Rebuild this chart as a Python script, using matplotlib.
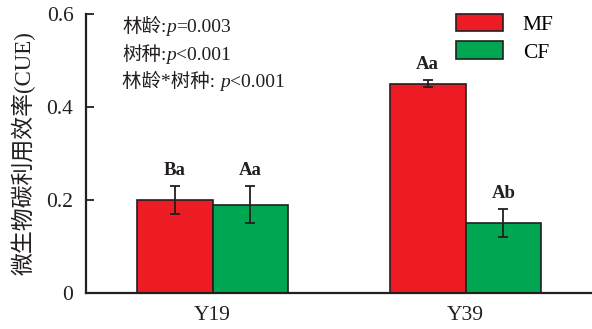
import matplotlib
matplotlib.use("Agg")
import matplotlib.pyplot as plt
import numpy as np

plt.rcParams['font.family'] = ['Liberation Serif', 'Noto Sans CJK SC']

# stand ages and forest types
ages = ['Y19', 'Y39']
mf_cue = [0.20, 0.45]
mf_err = [0.03, 0.008]
cf_cue = [0.19, 0.15]
cf_err = [0.04, 0.03]
mf_sig = ['Ba', 'Aa']
cf_sig = ['Aa', 'Ab']
# two-way ANOVA results: term, separator, p-value text
stats_terms = ['林龄', '树种', '林龄*树种']
stats_seps = [':', ':', ': ']
stats_p = ['=0.003', '<0.001', '<0.001']

red = '#ED1C24'
green = '#00A651'
dark = '#231F20'

fig = plt.figure(figsize=(5.92, 3.29), dpi=100)
ax = fig.add_axes([86 / 592, 36 / 329, (592 - 86) / 592, (293 - 14) / 329])

x = np.arange(len(ages))
w = 0.3
err_kw = dict(ecolor=dark, elinewidth=1.3, capsize=3.5, capthick=1.3)
b1 = ax.bar(x - w / 2, mf_cue, w, yerr=mf_err, color=red, edgecolor=dark,
            linewidth=1.2, label='MF', error_kw=err_kw)
b2 = ax.bar(x + w / 2, cf_cue, w, yerr=cf_err, color=green, edgecolor=dark,
            linewidth=1.2, label='CF', error_kw=err_kw)

# significance letters above the error bars
for xs, vals, errs, sig in [(x - w / 2, mf_cue, mf_err, mf_sig),
                            (x + w / 2, cf_cue, cf_err, cf_sig)]:
    for xi, v, e, s in zip(xs, vals, errs, sig):
        ax.annotate(s, (xi, v + e), xytext=(0, 5), textcoords='offset points',
                    ha='center', va='bottom', fontsize=13.5, fontweight='bold',
                    color=dark)

ax.set_xlim(-0.5, 1.5)
ax.set_ylim(0, 0.6)
ax.set_xticks(x)
ax.set_xticklabels(ages, fontsize=15.5)
ax.set_yticks([0, 0.2, 0.4, 0.6])
ax.set_yticklabels(['0', '0.2', '0.4', '0.6'], fontsize=15.5)
ax.tick_params(axis='y', direction='in', length=6, width=1.3, pad=9, colors=dark)
ax.tick_params(axis='x', length=0, pad=9, colors=dark)
for side in ['top', 'right']:
    ax.spines[side].set_visible(False)
for side in ['left', 'bottom']:
    ax.spines[side].set_linewidth(1.6)
    ax.spines[side].set_color(dark)

ax.set_ylabel('微生物碳利用效率(CUE)', fontsize=16.5, color=dark, labelpad=8)

ax.legend(handles=[b1, b2], loc='upper left',
          bbox_to_anchor=(456 / 592, 1 - 14 / 329), bbox_transform=fig.transFigure,
          frameon=False, fontsize=15.5, handlelength=2.2, handleheight=0.85,
          handletextpad=0.9, labelspacing=0.3, borderpad=0, borderaxespad=0)

# stats block: pieces placed one after another on a shared baseline
renderer = fig.canvas.get_renderer()
fs = 14
for i in range(len(stats_terms)):
    yb = 1 - (32 + i * 27.5) / 329
    xl = 122 / 592
    for piece, style in [(stats_terms[i] + stats_seps[i], 'normal'),
                         ('p', 'italic'), (stats_p[i], 'normal')]:
        t = fig.text(xl, yb, piece, fontsize=fs, fontstyle=style,
                     ha='left', va='baseline', color=dark)
        bb = t.get_window_extent(renderer)
        xl = fig.transFigure.inverted().transform((bb.x1, bb.y0))[0]

fig.savefig('out.png', dpi=100)
